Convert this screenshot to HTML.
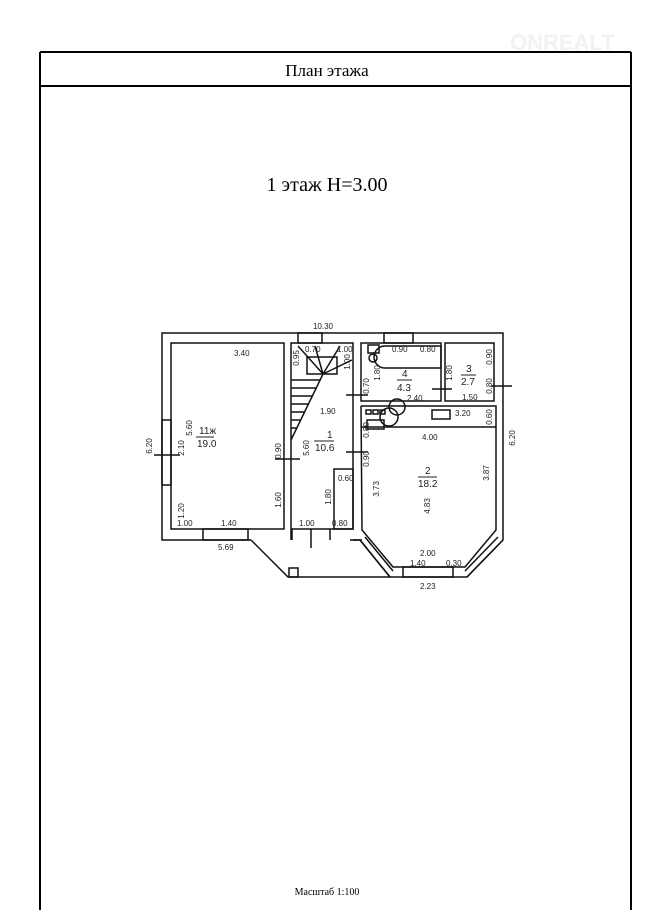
<!DOCTYPE html>
<html><head><meta charset="utf-8"><style>
body{margin:0;background:#fff;width:670px;height:910px;overflow:hidden;font-family:"Liberation Serif",serif}
svg{position:absolute;left:0;top:0}
.t{font-family:"Liberation Sans",sans-serif;font-size:8px;fill:#222}
</style></head><body>
<svg width="670" height="910" viewBox="0 0 670 910">
<line x1="40" y1="52" x2="40" y2="910" stroke="#000" stroke-width="2"/>
<line x1="631" y1="52" x2="631" y2="910" stroke="#000" stroke-width="2"/>
<line x1="40" y1="52" x2="631" y2="52" stroke="#000" stroke-width="2"/>
<line x1="40" y1="86" x2="631" y2="86" stroke="#000" stroke-width="2"/>
<text x="327" y="76" font-size="17" text-anchor="middle" font-family="Liberation Serif">План этажа</text>
<text x="327" y="191" font-size="20" text-anchor="middle" font-family="Liberation Serif">1 этаж  H=3.00</text>
<text x="327" y="895" font-size="10" text-anchor="middle" font-family="Liberation Serif">Масштаб 1:100</text>
<text x="510" y="50" font-size="22" font-weight="bold" fill="#f2f2f2" font-family="Liberation Sans">ONREALT</text>

<g fill="none" stroke="#111" stroke-width="1.5">
<polyline points="251,540 162,540 162,333 503,333 503,540 467,577 390,577 360,540 350,540"/>
<polyline points="251,540 288,577 390,577"/>
<rect x="289" y="568" width="9" height="9"/>
<rect x="171" y="343" width="113" height="186"/>
<polyline points="291,540 291,343 353,343 353,529 291,529"/>
<line x1="292" y1="529" x2="292" y2="540"/>
<line x1="330" y1="529" x2="330" y2="540"/>
<rect x="361" y="343" width="80" height="58"/>
<rect x="445" y="343" width="49" height="58"/>
<polyline points="361,406 496,406 496,530 465,567 393,567 362,530 361,406"/>
<line x1="361" y1="427" x2="496" y2="427"/>
<line x1="353" y1="540" x2="362" y2="540"/>
<line x1="360" y1="540" x2="390" y2="577"/>
<line x1="365" y1="537" x2="393" y2="571"/>
<line x1="503" y1="540" x2="467" y2="577"/>
<line x1="498" y1="537" x2="465" y2="571"/>
<rect x="403" y="567" width="50" height="10"/>
<rect x="298" y="333" width="24" height="10"/>
<rect x="384" y="333" width="29" height="10"/>
<rect x="162" y="420" width="9" height="65"/>
<rect x="203" y="529" width="45" height="11"/>
<line x1="291" y1="440" x2="323" y2="374"/>
<line x1="323" y1="374" x2="298" y2="346"/>
<line x1="323" y1="374" x2="315" y2="346"/>
<line x1="323" y1="374" x2="340" y2="346"/>
<line x1="323" y1="374" x2="352" y2="360"/>
<rect x="307" y="357" width="30" height="17"/>
<line x1="291" y1="380" x2="321" y2="380"/><line x1="291" y1="388" x2="317" y2="388"/>
<line x1="291" y1="396" x2="313" y2="396"/><line x1="291" y1="404" x2="309" y2="404"/>
<line x1="291" y1="412" x2="305" y2="412"/><line x1="291" y1="420" x2="301" y2="420"/>
<line x1="291" y1="428" x2="297" y2="428"/>
<rect x="334" y="469" width="19" height="60"/>
<path d="M385,346 L441,346 L441,368 L385,368 A11,11 0 0 1 385,346Z"/>
<rect x="368" y="345" width="11" height="8"/>
<circle cx="373" cy="358" r="4"/>
<circle cx="397" cy="407" r="8"/>
<circle cx="389" cy="417" r="9"/>
<rect x="367" y="420" width="17" height="9"/>
<rect x="366" y="410" width="5" height="4"/><rect x="373" y="410" width="5" height="4"/><rect x="380" y="410" width="5" height="4"/>
<rect x="432" y="410" width="18" height="9"/>
<line x1="346" y1="395" x2="368" y2="395"/>
<line x1="346" y1="452" x2="368" y2="452"/>
<line x1="275" y1="459" x2="300" y2="459"/>
<line x1="432" y1="389" x2="452" y2="389"/>
<line x1="491" y1="386" x2="512" y2="386"/>
<line x1="154" y1="455" x2="180" y2="455"/>
<line x1="311" y1="529" x2="311" y2="548"/>
</g>
<g class="t">
<text x="323" y="329" text-anchor="middle">10.30</text>
<text x="234" y="356">3.40</text>
<text x="199" y="434" font-size="10">11ж</text>
<line x1="196" y1="437" x2="214" y2="437" stroke="#222"/>
<text x="197" y="447" font-size="10">19.0</text>
<text x="327" y="438" font-size="10">1</text>
<line x1="314" y1="441" x2="334" y2="441" stroke="#222"/>
<text x="315" y="451" font-size="10">10.6</text>
<text x="402" y="377" font-size="10">4</text>
<line x1="397" y1="380" x2="412" y2="380" stroke="#222"/>
<text x="397" y="391" font-size="10">4.3</text>
<text x="466" y="372" font-size="10">3</text>
<line x1="461" y1="375" x2="476" y2="375" stroke="#222"/>
<text x="461" y="385" font-size="10">2.7</text>
<text x="425" y="474" font-size="10">2</text>
<line x1="418" y1="477" x2="437" y2="477" stroke="#222"/>
<text x="418" y="487" font-size="10">18.2</text>
<text x="305" y="352">0.70</text><text x="337" y="352">1.00</text>
<text x="392" y="352">0.90</text><text x="420" y="352">0.80</text>
<text x="407" y="401">2.40</text><text x="462" y="400">1.50</text>
<text x="320" y="414">1.90</text><text x="455" y="416">3.20</text>
<text x="422" y="440">4.00</text>
<text x="177" y="526">1.00</text><text x="221" y="526">1.40</text>
<text x="299" y="526">1.00</text><text x="332" y="526">0.80</text>
<text x="338" y="481">0.60</text>
<text x="218" y="550">5.69</text>
<text x="420" y="556">2.00</text><text x="410" y="566">1.40</text><text x="446" y="566">0.30</text>
<text x="420" y="589">2.23</text>
<text transform="translate(152,446) rotate(-90)" text-anchor="middle">6.20</text>
<text transform="translate(192,428) rotate(-90)" text-anchor="middle">5.60</text>
<text transform="translate(184,448) rotate(-90)" text-anchor="middle">2.10</text>
<text transform="translate(184,511) rotate(-90)" text-anchor="middle">1.20</text>
<text transform="translate(281,451) rotate(-90)" text-anchor="middle">0.90</text>
<text transform="translate(281,500) rotate(-90)" text-anchor="middle">1.60</text>
<text transform="translate(309,448) rotate(-90)" text-anchor="middle">5.60</text>
<text transform="translate(331,497) rotate(-90)" text-anchor="middle">1.80</text>
<text transform="translate(299,358) rotate(-90)" text-anchor="middle">0.95</text>
<text transform="translate(350,362) rotate(-90)" text-anchor="middle">1.00</text>
<text transform="translate(369,386) rotate(-90)" text-anchor="middle">0.70</text>
<text transform="translate(380,373) rotate(-90)" text-anchor="middle">1.80</text>
<text transform="translate(452,373) rotate(-90)" text-anchor="middle">1.80</text>
<text transform="translate(492,357) rotate(-90)" text-anchor="middle">0.90</text>
<text transform="translate(492,386) rotate(-90)" text-anchor="middle">0.80</text>
<text transform="translate(369,430) rotate(-90)" text-anchor="middle">0.80</text>
<text transform="translate(369,459) rotate(-90)" text-anchor="middle">0.90</text>
<text transform="translate(492,417) rotate(-90)" text-anchor="middle">0.60</text>
<text transform="translate(379,489) rotate(-90)" text-anchor="middle">3.73</text>
<text transform="translate(430,506) rotate(-90)" text-anchor="middle">4.83</text>
<text transform="translate(489,473) rotate(-90)" text-anchor="middle">3.87</text>
<text transform="translate(515,438) rotate(-90)" text-anchor="middle">6.20</text>
</g>
</svg>
</body></html>
